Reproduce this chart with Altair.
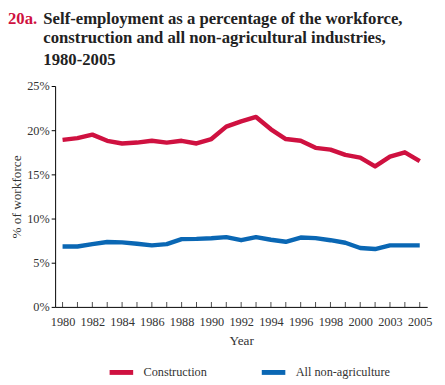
import altair as alt
import pandas as pd

years = ["1980", "1981", "1982", "1983", "1984", "1985", "1986", "1987", "1988", "1989",
         "1990", "1991", "1992", "1993", "1994", "1995", "1996", "1997", "1998", "1999",
         "2000", "2002", "2003", "2004", "2005"]
construction = [18.9, 19.1, 19.5, 18.8, 18.5, 18.6, 18.8, 18.6, 18.8, 18.5,
                19.0, 20.4, 21.0, 21.5, 20.1, 19.0, 18.8, 18.0, 17.8, 17.2,
                16.9, 15.9, 17.0, 17.5, 16.5]
non_agriculture = [6.84, 6.84, 7.1, 7.35, 7.3, 7.15, 6.96, 7.1, 7.67, 7.7,
                   7.77, 7.9, 7.55, 7.9, 7.6, 7.37, 7.85, 7.78, 7.55, 7.26,
                   6.67, 6.55, 6.96, 6.96, 6.96]
series_names = ["Construction", "All non-agriculture"]
series_colors = ["#cf1140", "#0a67b4"]
x_tick_labels = ["1980", "1982", "1984", "1986", "1988", "1990", "1992", "1994",
                 "1996", "1998", "2000", "2003", "2005"]
y_ticks = [0, 5, 10, 15, 20, 25]
title_tag = "20a."
title_lines = ["Self-employment as a percentage of the workforce,",
               "construction and all non-agricultural industries,",
               "1980-2005"]

rows = []
for y, c, n in zip(years, construction, non_agriculture):
    rows.append({"year": y, "series": series_names[0], "value": c})
    rows.append({"year": y, "series": series_names[1], "value": n})
df = pd.DataFrame(rows)

FONT = "Liberation Serif"
label_list = "[" + ",".join("'" + s + "'" for s in x_tick_labels) + "]"

x_enc = alt.X("year:O", scale=alt.Scale(type="point", padding=0.5, domain=years),
              axis=alt.Axis(title="Year", labelAngle=0, ticks=False, domain=True,
                            domainColor="#000", domainWidth=1,
                            labelExpr=f"indexof({label_list}, datum.label) >= 0 ? datum.label : ''",
                            labelFont=FONT, labelFontSize=12.5, labelColor="#333",
                            labelPadding=9, titleFont=FONT, titleFontSize=13.5,
                            titleFontWeight="normal", titleColor="#333", titlePadding=6))
y_enc = alt.Y("value:Q", scale=alt.Scale(domain=[0, 25], nice=False),
              axis=alt.Axis(title="% of workforce", values=y_ticks,
                            labelExpr="datum.value + '%'", grid=False,
                            domainColor="#000", tickColor="#000", tickSize=4,
                            labelFont=FONT, labelFontSize=12.5, labelColor="#333",
                            labelPadding=2, titleFont=FONT, titleFontSize=13.5,
                            titleFontWeight="normal", titleColor="#333", titlePadding=3))

lines = alt.Chart(df).mark_line(strokeWidth=4.5, strokeJoin="round").encode(
    x=x_enc, y=y_enc,
    color=alt.Color("series:N", scale=alt.Scale(domain=series_names, range=series_colors),
                    legend=alt.Legend(title=None, orient="none", legendX=53, legendY=277,
                                      direction="horizontal", symbolType="stroke",
                                      symbolSize=576, symbolStrokeWidth=5,
                                      labelFont=FONT, labelFontSize=12.5, labelColor="#333",
                                      labelOffset=8, columnPadding=45)),
    detail="series:N",
)

ticks = alt.Chart(pd.DataFrame({"year": years, "value": [0] * len(years)})).mark_tick(
    orient="vertical", size=5, thickness=1, color="#000", yOffset=-2.5
).encode(x=alt.X("year:O"), y=alt.Y("value:Q"))

def text_layer(txt, x, y, color):
    return alt.Chart(pd.DataFrame({"t": [txt]})).mark_text(
        align="left", baseline="alphabetic", font=FONT, fontSize=17, fontWeight="bold",
        color=color
    ).encode(text="t:N", x=alt.value(x), y=alt.value(y))

title_layers = [text_layer(title_tag, -48, -63, "#cf1140")]
for line, yy in zip(title_lines, [-63, -44, -21]):
    title_layers.append(text_layer(line, -12, yy, "#222"))

chart = alt.layer(lines, ticks, *title_layers).properties(
    width=379, height=225,
    autosize=alt.AutoSizeParams(type="none"),
    padding={"left": 48, "top": 76, "right": 10, "bottom": 72},
).configure_view(stroke=None)

chart.save("out.html", embed_options={"renderer": "svg", "actions": False})
